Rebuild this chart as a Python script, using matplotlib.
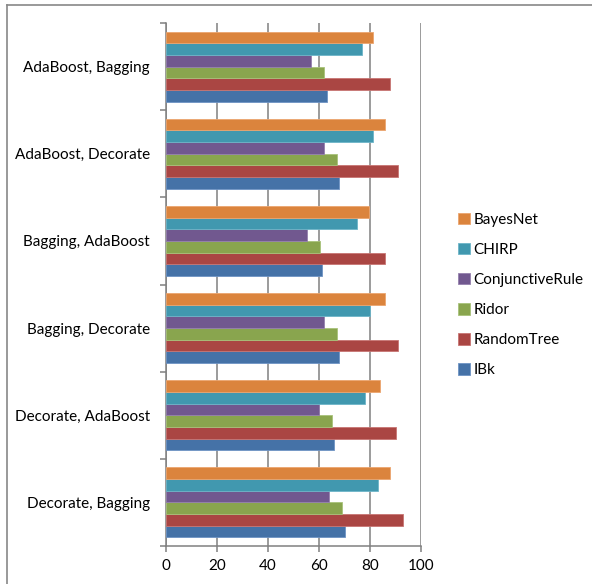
import matplotlib
matplotlib.use("Agg")
import matplotlib.pyplot as plt
import numpy as np
from matplotlib.lines import Line2D
from matplotlib.patches import Patch

categories = ["AdaBoost, Bagging", "AdaBoost, Decorate", "Bagging, AdaBoost",
              "Bagging, Decorate", "Decorate, AdaBoost", "Decorate, Bagging"]
series_names = ["IBk", "RandomTree", "Ridor", "ConjunctiveRule", "CHIRP", "BayesNet"]
IBk = [63, 68, 61.3, 68, 66, 70]
RandomTree = [88, 91, 86, 91, 90, 93]
Ridor = [62, 67, 60.4, 67, 65, 69]
ConjunctiveRule = [57, 62, 55.4, 62, 60, 64]
CHIRP = [77, 81, 75, 80, 78, 83]
BayesNet = [81, 86, 79.5, 86, 84, 88]
xticks = [0, 20, 40, 60, 80, 100]

series_values = [IBk, RandomTree, Ridor, ConjunctiveRule, CHIRP, BayesNet]
colors = ["#4572A7", "#AA4643", "#89A54E", "#71588F", "#4198AF", "#DB843D"]
edges = ["#6E93C4", "#C77573", "#A8C27A", "#9580AE", "#6DB5C8", "#EBA56F"]

plt.rcParams['font.family'] = ['Lato', 'DejaVu Sans']

W, H = 592, 584
fig = plt.figure(figsize=(W / 100, H / 100), dpi=100)
ax = fig.add_axes([166 / W, 1 - 546 / H, (421 - 166) / W, (546 - 23) / H])

n = len(categories)
ypos = np.arange(n)[::-1]  # first category at top
bh = 0.134
for i, (name, vals) in enumerate(zip(series_names, series_values)):
    off = (i - 2.5) * bh
    ax.barh(ypos + off, vals, height=bh, color=colors[i], edgecolor=edges[i],
            linewidth=0.6, label=name, zorder=3)

ax.set_xlim(0, 100)
ax.set_ylim(-0.5, n - 0.5)
ax.set_xticks(xticks)
ax.set_xticklabels([str(v) for v in xticks], fontsize=11)
ax.set_yticks(ypos)
ax.set_yticklabels(categories, fontsize=11)
ax.set_yticks(np.arange(-0.5, n, 1.0), minor=True)
ax.tick_params(axis='y', which='major', length=0, pad=11.5)
ax.tick_params(axis='y', which='minor', length=4, color='#808080', width=1.1)
ax.tick_params(axis='x', which='major', length=4, color='#808080', width=1.1, pad=5)
ax.grid(axis='x', color='#808080', linewidth=1.1, zorder=0)
for s in ['top', 'right']:
    ax.spines[s].set_visible(False)
for s in ['left', 'bottom']:
    ax.spines[s].set_color('#808080')
    ax.spines[s].set_linewidth(1.1)

handles = [Patch(facecolor=colors[i], edgecolor=edges[i], linewidth=0.6)
           for i in range(len(series_names))][::-1]
labels = series_names[::-1]
fig.legend(handles, labels, loc='upper left', bbox_to_anchor=(452 / W, 1 - 207 / H),
           frameon=False, fontsize=11, handlelength=0.75, handleheight=0.75,
           handletextpad=0.25, labelspacing=1.05, borderaxespad=0)

# outer chart border (extends beyond the right and bottom edges)
fig.add_artist(Line2D([7 / W, 1.0], [1 - 5 / H, 1 - 5 / H], color='#888888',
                      linewidth=1.2, transform=fig.transFigure))
fig.add_artist(Line2D([7 / W, 7 / W], [0, 1 - 5 / H], color='#888888',
                      linewidth=1.2, transform=fig.transFigure))

fig.savefig("out.png", dpi=100)
